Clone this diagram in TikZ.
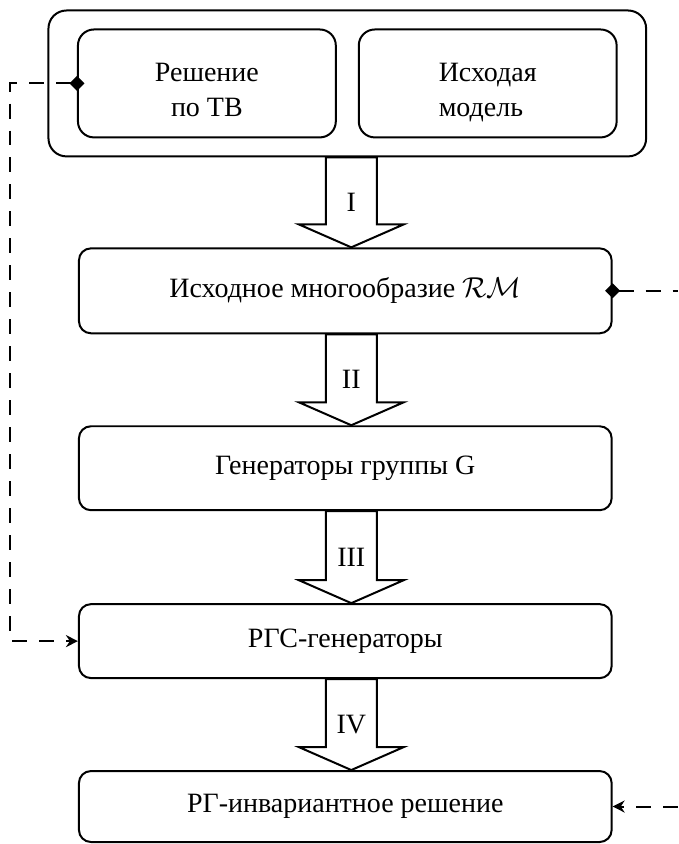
\documentclass[tikz,border=0pt]{standalone}
\usepackage{fontspec}
\setmainfont{Liberation Serif}
\usepackage{amsmath}
\usetikzlibrary{positioning, fit, calc, arrows.meta}

\begin{document}
\begin{tikzpicture}[
    font=\fontsize{14}{17.5}\selectfont,
    part/.style={rectangle, rounded corners=8pt, draw=black, line width=1pt, minimum width=129pt, minimum height=54pt},
    group/.style={rectangle, rounded corners=9pt, draw=black, line width=1pt, inner xsep=14.25pt, inner ysep=9pt},
    box/.style={rectangle, rounded corners=6pt, draw=black, line width=1pt, minimum width=266.5pt, text centered},
    stage/.style={line width=1pt},
    link/.style={line width=1pt, dash pattern=on 7.5pt off 6pt}
]

% Sources
\node[part, align=center] (solution) {\rule{0pt}{16pt}Решение\\по ТВ};
\node[part, align=left, right=10.5pt of solution] (model) {\rule{0pt}{16pt}Исходая\\\smash[b]{модель}};
\node[group, fit=(solution)(model)] (source) {};

% Steps
\node[box, minimum height=42.5pt, below=45pt of source, xshift=-1pt] (manifold) {Исходное многообразие $\mathcal{RM}$};
\node[box, minimum height=42pt, below=45.5pt of manifold] (generators) {Генераторы группы G};
\node[box, minimum height=37pt, below=46pt of generators] (rgs) {РГС-генераторы};
\node[box, minimum height=35.5pt, below=45.5pt of rgs] (final) {РГ-инвариантное решение};

% Block arrows
\draw[stage] (source.south) -| ([xshift=-9.75pt,yshift=11.5pt]manifold.north) -- ++(-13.5pt,0) -- ([xshift=3pt]manifold.north) -- ++(26.25pt,11.5pt) -- ++(-13.5pt,0) |- (source.south);
\draw[stage] (manifold.south) -| ([xshift=-9.75pt,yshift=11.5pt]generators.north) -- ++(-13.5pt,0) -- ([xshift=3pt]generators.north) -- ++(26.25pt,11.5pt) -- ++(-13.5pt,0) |- (manifold.south);
\draw[stage] (generators.south) -| ([xshift=-9.75pt,yshift=11.5pt]rgs.north) -- ++(-13.5pt,0) -- ([xshift=3pt]rgs.north) -- ++(26.25pt,11.5pt) -- ++(-13.5pt,0) |- (generators.south);
\draw[stage] (rgs.south) -| ([xshift=-9.75pt,yshift=11.5pt]final.north) -- ++(-13.5pt,0) -- ([xshift=3pt]final.north) -- ++(26.25pt,11.5pt) -- ++(-13.5pt,0) |- (rgs.south);

% Step labels
\node (step1) at ($(source.south -| manifold.north)!0.5!(manifold.north)+(3pt,0)$) {I};
\node (step2) at ($(manifold.south)!0.5!(generators.north)+(3pt,0)$) {II};
\node (step3) at ($(generators.south)!0.5!(rgs.north)+(3pt,0)$) {III};
\node (step4) at ($(rgs.south)!0.5!(final.north)+(3pt,0)$) {IV};

% Dashed links
\draw[link, {Diamond[length=7.5pt,width=7.5pt]}-{Stealth[length=6pt,width=6pt]}, shorten <=-3.75pt] (solution.west) -- ++(-33.5pt,0) |- (rgs.west);
\draw[link, {Diamond[length=7.5pt,width=7.5pt]}-, shorten <=-3.75pt] (manifold.east) -- ++(32.5pt,0);
\draw[link, -{Stealth[length=6pt,width=6pt]}] ([xshift=32.5pt]final.east) -- (final.east);

\useasboundingbox ([xshift=-39pt,yshift=4.75pt]rgs.west |- source.north) rectangle ([xshift=32.5pt,yshift=-0.5pt]manifold.east |- final.south);

\end{tikzpicture}
\end{document}
